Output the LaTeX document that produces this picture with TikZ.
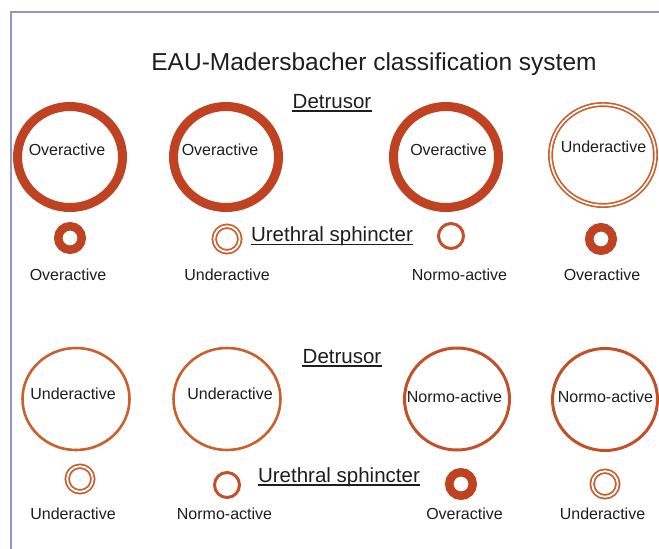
\documentclass[tikz,border=0pt]{standalone}
\usepackage{fontspec}
\setmainfont{Liberation Sans}
\usetikzlibrary{shapes.geometric}
\definecolor{rust}{HTML}{BF4322}
\definecolor{orng}{HTML}{C9602D}
\definecolor{normc}{HTML}{C4502A}
\definecolor{framec}{HTML}{9096C8}
\definecolor{ink}{HTML}{1E1E1E}
\begin{document}
\begin{tikzpicture}[x=1pt,y=-1pt,
  bigring/.style={ellipse, minimum width=105pt, minimum height=101pt, inner sep=0pt, outer sep=0pt},
  smallring/.style={circle, inner sep=0pt, outer sep=0pt},
  overbig/.style={bigring, draw=rust, line width=9pt},
  underbig/.style={bigring, draw=orng, line width=1.7pt, double=white, double distance=1.6pt},
  underbigb/.style={bigring, minimum width=107pt, minimum height=102pt, draw=orng, line width=2.6pt},
  normbig/.style={bigring, minimum width=105pt, minimum height=102pt, draw=normc, line width=3pt},
  oversmall/.style={smallring, minimum size=23.5pt, draw=rust, line width=8.5pt},
  undersmall/.style={smallring, minimum size=25.6pt, draw=orng, line width=1.8pt, double=white, double distance=1.8pt},
  normsmall/.style={smallring, minimum size=25pt, draw=normc, line width=3pt},
  lbl/.style={font=\fontsize{16}{18}\selectfont, text=ink, inner sep=0pt, anchor=base},
  hdr/.style={font=\fontsize{20.5}{24}\selectfont, text=ink, inner sep=0pt, anchor=base},
  ttl/.style={font=\fontsize{24.5}{28}\selectfont, text=ink, inner sep=0pt, anchor=base},
  uline/.style={draw=ink, line width=1.4pt}
]
\useasboundingbox (0,0) rectangle (659,549);
\fill[white] (0,0) rectangle (659,549);
\draw[framec, line width=1.5pt] (659,12) -- (11,12) -- (11,549);

% title
\node[ttl] (title) at (374,70) {EAU-Madersbacher classification system};

% ---------- top half ----------
\node[hdr] (det1) at (332,108) {Detrusor};
\draw[uline] ([yshift=-3pt]det1.base west) -- ([yshift=-3pt]det1.base east);
\node[hdr] (ure1) at (332,241.5) {Urethral sphincter};
\draw[uline] ([yshift=-3pt]ure1.base west) -- ([yshift=-3pt]ure1.base east);

\node[overbig] (b1) at (70,157) {};
\node[overbig] (b2) at (226,157) {};
\node[overbig] (b3) at (446,157) {};
\node[underbig] (b4) at (603,155) {};
\node[lbl] (b1t) at (67,155) {Overactive};
\node[lbl] (b2t) at (220,155) {Overactive};
\node[lbl] (b3t) at (448.5,155) {Overactive};
\node[lbl] (b4t) at (603.5,152) {Underactive};

\node[oversmall] (s1) at (70,238) {};
\node[undersmall] (s2) at (227,239) {};
\node[normsmall] (s3) at (451,236) {};
\node[oversmall] (s4) at (601,239) {};
\node[lbl] (s1t) at (68,280) {Overactive};
\node[lbl] (s2t) at (227,280) {Underactive};
\node[lbl] (s3t) at (459.5,280) {Normo-active};
\node[lbl] (s4t) at (602,280) {Overactive};

% ---------- bottom half ----------
\node[hdr] (det2) at (342,363) {Detrusor};
\draw[uline] ([yshift=-3pt]det2.base west) -- ([yshift=-3pt]det2.base east);
\node[hdr] (ure2) at (339,482) {Urethral sphincter};
\draw[uline] ([yshift=-3pt]ure2.base west) -- ([yshift=-3pt]ure2.base east);

\node[underbigb] (c1) at (76,399) {};
\node[underbigb] (c2) at (227,399) {};
\node[normbig] (c3) at (457,399) {};
\node[normbig] (c4) at (605,399.5) {};
\node[lbl] (c1t) at (73,399) {Underactive};
\node[lbl] (c2t) at (230,399) {Underactive};
\node[lbl] (c3t) at (454.5,402) {Normo-active};
\node[lbl] (c4t) at (605.5,402) {Normo-active};

\node[undersmall] (t1) at (80,479) {};
\node[normsmall] (t2) at (227,485) {};
\node[oversmall] (t3) at (461,484) {};
\node[undersmall] (t4) at (605,484) {};
\node[lbl] (t1t) at (73,519) {Underactive};
\node[lbl] (t2t) at (224.5,519) {Normo-active};
\node[lbl] (t3t) at (464.5,519) {Overactive};
\node[lbl] (t4t) at (602.5,519) {Underactive};
\end{tikzpicture}
\end{document}
